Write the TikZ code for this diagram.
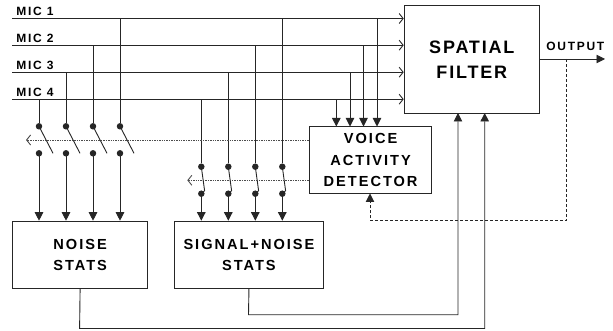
\documentclass[tikz,border=0pt]{standalone}
\usepackage{fontspec}
\setmainfont{Liberation Sans}
\usetikzlibrary{arrows.meta}

\begin{document}
\begin{tikzpicture}
[x=1pt,y=-1pt,line width=0.9pt,color=black!85,
 block/.style={draw,rectangle,anchor=north west,inner sep=0pt,align=center,text=black},
 bigtext/.style={font={\fontsize{18}{25}\bfseries\addfontfeature{LetterSpace=10}}},
 midtext/.style={font={\fontsize{14.6}{21.5}\bfseries\addfontfeature{LetterSpace=13.5}}},
 smalltext/.style={font={\fontsize{12}{13}\bfseries\addfontfeature{LetterSpace=14}},inner sep=0pt,text=black},
 dot/.style={draw,fill,circle,inner sep=0pt,minimum size=5.5pt},
 tap/.style={-{Triangle[length=8.5pt,width=8.5pt]}},
 barb/.style={-{Straight Barb[length=4pt,width=10pt]}},
 ctrl/.style={dash pattern=on 1pt off 0.7pt,color=black!70}]
\useasboundingbox (0,0) rectangle (613,331);

\node (filter) at (403.7,5) [block,minimum width=135.3pt,minimum height=108pt,bigtext] {SPATIAL\\FILTER};
\node (vad) at (309.3,126.5) [block,minimum width=121.7pt,minimum height=67pt,midtext] {VOICE\\ACTIVITY\\DETECTOR};
\node (noise) at (12,220.7) [block,minimum width=135.3pt,minimum height=67.3pt,midtext] {NOISE\\STATS};
\node (signal) at (174.3,220.7) [block,minimum width=148.4pt,minimum height=67.3pt,midtext] {SIGNAL+NOISE\\STATS};

\node (l1) at (16,11.5) [smalltext,anchor=west] {MIC 1};
\node (l2) at (16,38.5) [smalltext,anchor=west] {MIC 2};
\node (l3) at (16,65.5) [smalltext,anchor=west] {MIC 3};
\node (l4) at (16,92.5) [smalltext,anchor=west] {MIC 4};
\node (lout) at (546,46) [smalltext,anchor=west] {OUTPUT};

\coordinate (in1) at (12,18.5);
\coordinate (in2) at (12,45.2);
\coordinate (in3) at (12,72.2);
\coordinate (in4) at (12,99.2);
\draw[barb] (in1) -- (in1 -| filter.west);
\draw[barb] (in2) -- (in2 -| filter.west);
\draw[barb] (in3) -- (in3 -| filter.west);
\draw[barb] (in4) -- (in4 -| filter.west);

\coordinate (vad1) at (377,126.5);
\coordinate (vad2) at (363.5,126.5);
\coordinate (vad3) at (350,126.5);
\coordinate (vad4) at (336.3,126.5);
\draw[tap] (vad1 |- in1) -- (vad1);
\draw[tap] (vad2 |- in2) -- (vad2);
\draw[tap] (vad3 |- in3) -- (vad3);
\draw[tap] (vad4 |- in4) -- (vad4);

\node (a1) at (39,126.3) [dot] {};
\node (a2) at (66,126.3) [dot] {};
\node (a3) at (93,126.3) [dot] {};
\node (a4) at (120,126.3) [dot] {};
\node (b1) at (39,153.3) [dot] {};
\node (b2) at (66,153.3) [dot] {};
\node (b3) at (93,153.3) [dot] {};
\node (b4) at (120,153.3) [dot] {};
\node (c1) at (201.3,166.7) [dot] {};
\node (c2) at (228.3,166.7) [dot] {};
\node (c3) at (255.3,166.7) [dot] {};
\node (c4) at (282.3,166.7) [dot] {};
\node (d1) at (201.3,193.7) [dot] {};
\node (d2) at (228.3,193.7) [dot] {};
\node (d3) at (255.3,193.7) [dot] {};
\node (d4) at (282.3,193.7) [dot] {};

\draw (a1 |- in4) -- (a1);
\draw (a2 |- in3) -- (a2);
\draw (a3 |- in2) -- (a3);
\draw (a4 |- in1) -- (a4);
\draw (c1 |- in4) -- (c1);
\draw (c2 |- in3) -- (c2);
\draw (c3 |- in2) -- (c3);
\draw (c4 |- in1) -- (c4);

\draw[tap] (b1) -- (b1 |- noise.north);
\draw[tap] (b2) -- (b2 |- noise.north);
\draw[tap] (b3) -- (b3 |- noise.north);
\draw[tap] (b4) -- (b4 |- noise.north);
\draw[tap] (d1) -- (d1 |- signal.north);
\draw[tap] (d2) -- (d2 |- signal.north);
\draw[tap] (d3) -- (d3 |- signal.north);
\draw[tap] (d4) -- (d4 |- signal.north);

% open switches
\draw (a1.center) -- ++(14,27);
\draw (a2.center) -- ++(14,27);
\draw (a3.center) -- ++(14,27);
\draw (a4.center) -- ++(14,27);
% closed switches
\draw (c1.center) -- ++(3.3,24) -- (d1.center);
\draw (c2.center) -- ++(3.3,24) -- (d2.center);
\draw (c3.center) -- ++(3.3,24) -- (d3.center);
\draw (c4.center) -- ++(3.3,24) -- (d4.center);

\coordinate (ctrla) at (26,140);
\coordinate (ctrlb) at (187.3,180.3);
\draw[barb,ctrl] (ctrla -| vad.west) -- (ctrla);
\draw[barb,ctrl] (ctrlb -| vad.west) -- (ctrlb);

\coordinate (out) at (605,59);
\coordinate (sense) at (566,220.7);
\draw[tap] (out -| filter.east) -- (out);
\draw[tap,densely dashed] (sense |- out) -- (sense) -- (370,220.7) -- (370,193.5);

\coordinate (fb1) at (458,113);
\coordinate (fb2) at (484.7,113);
\draw[tap] (signal.south) -- (248.5,314.7) -- (458,314.7) -- (fb1);
\draw[tap] (noise.south) -- (79.6,328.5) -- (484.7,328.5) -- (fb2);
\end{tikzpicture}
\end{document}
